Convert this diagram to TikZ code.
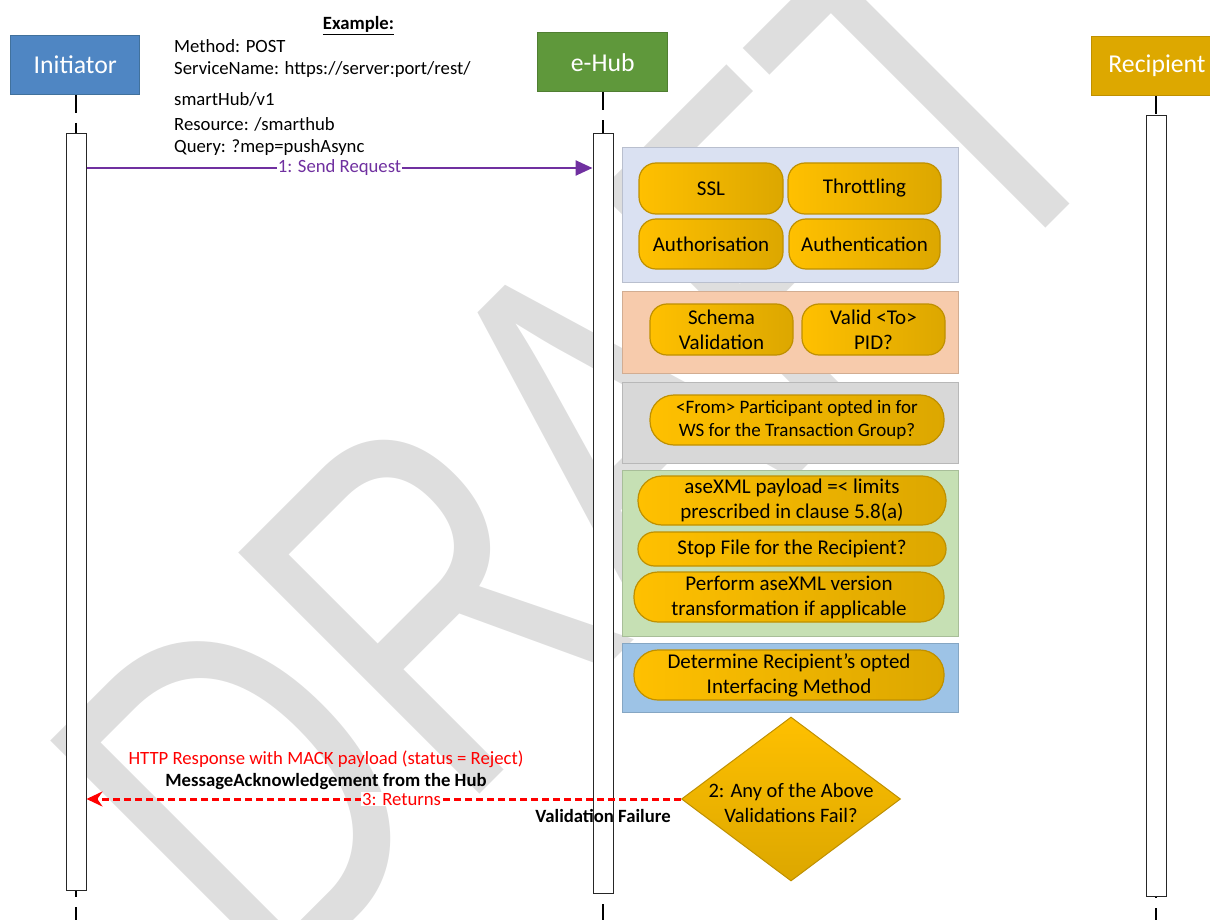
\documentclass[tikz,border=0pt]{standalone}
\usepackage{fontspec}
\usepackage{graphicx}
\setmainfont{Carlito}
\newfontfamily\wmfont{Liberation Sans}
\usetikzlibrary{arrows.meta,shapes.geometric}
\definecolor{initblue}{HTML}{4F86C3}
\definecolor{initborder}{HTML}{41719C}
\definecolor{hubgreen}{HTML}{5F983B}
\definecolor{hubborder}{HTML}{507E32}
\definecolor{recgold}{HTML}{DDA800}
\definecolor{recborder}{HTML}{BF9000}
\definecolor{goldA}{HTML}{FFC000}
\definecolor{goldB}{HTML}{DCA700}
\definecolor{pillborder}{HTML}{BF9000}
\definecolor{grpA}{HTML}{DAE1F2}
\definecolor{grpB}{HTML}{F7CBAC}
\definecolor{grpC}{HTML}{D8D8D8}
\definecolor{grpD}{HTML}{C6E0B4}
\definecolor{grpE}{HTML}{9DC3E6}
\definecolor{msgpurple}{HTML}{7030A0}
\definecolor{wmgray}{HTML}{DEDEDE}
\definecolor{msgred}{HTML}{FF0000}
\begin{document}
\begin{tikzpicture}[x=1pt,y=-1pt,
  header/.style={line width=1pt, minimum height=59pt, inner sep=0pt, text=white, font=\fontsize{25.7}{30}\selectfont},
  actbar/.style={draw=black!85, fill=white, line width=1pt, minimum width=20pt, inner sep=0pt},
  lifeline/.style={line width=1.8pt, black, dash pattern=on 18pt off 10pt},
  grp/.style={fill=#1, draw=#1!85!black, line width=0.8pt, minimum width=336pt, inner sep=0pt},
  pill/.style={draw=pillborder, line width=1.2pt, left color=goldA, right color=goldB, inner sep=0pt, align=center, font=\fontsize{21}{25}\selectfont},
  plain/.style={inner sep=0pt, font=\fontsize{18.7}{22}\selectfont},
  msglabel/.style={fill=white, inner sep=1pt, font=\fontsize{18.7}{22}\selectfont},
  wm/.style={text=wmgray, inner sep=0pt, font=\wmfont\fontsize{368}{368}\selectfont}
]
\useasboundingbox (0,0) rectangle (1210,920);
\clip (0,0) rectangle (1210,920);

% watermark
\node[wm, rotate=45, anchor=north west] (draft) at (28.8,762.2) {\scalebox{1}[1.347]{DRAFT}};

% header boxes
\node[header, fill=initblue, draw=initborder, minimum width=129pt] (init) at (75.3,65) {Initiator};
\node[header, fill=hubgreen, draw=hubborder, minimum width=130pt] (hub) at (602.7,62.2) {e-Hub};
\node[header, fill=recgold, draw=recborder, minimum width=132pt] (rec) at (1157,66) {Recipient};

% lifeline ends
\coordinate (initend) at (76,925);
\coordinate (hubend) at (603,925);
\coordinate (recend) at (1156,925);
\draw[lifeline] (init.south -| initend) -- (initend);
\draw[lifeline] (hub.south -| hubend) -- (hubend);
\draw[lifeline] (rec.south -| recend) -- (recend);

% activation bars
\node[actbar, minimum height=756pt] (initbar) at (76,512) {};
\node[actbar, minimum height=759pt] (hubbar) at (603,513.5) {};
\node[actbar, minimum height=780pt] (recbar) at (1156,506) {};

% groups
\node[grp=grpA, minimum height=135pt] (g1) at (790,214.5) {};
\node[grp=grpB, minimum height=82pt] (g2) at (790,332) {};
\node[grp=grpC, minimum height=81pt] (g3) at (790,422.5) {};
\node[grp=grpD, minimum height=166pt] (g4) at (790,553) {};
\node[grp=grpE, minimum height=69pt] (g5) at (790,677.5) {};

% pills
\node[pill, rounded corners=17pt, minimum width=144pt, minimum height=51pt] (ssl) at (711,188.5) {SSL};
\node[pill, rounded corners=17pt, minimum width=153pt, minimum height=51pt] (thr) at (864.5,188.5) {Throttling};
\node[pill, rounded corners=17pt, minimum width=144pt, minimum height=50pt] (authz) at (711,244) {Authorisation};
\node[pill, rounded corners=17pt, minimum width=151pt, minimum height=50pt] (authn) at (864.5,244) {Authentication};
\node[pill, rounded corners=17pt, minimum width=143pt, minimum height=51pt] (schema) at (721.5,329.5) {Schema\\Validation};
\node[pill, rounded corners=17pt, minimum width=143pt, minimum height=51pt] (validto) at (873.5,329.5) {Valid <To>\\PID?};
\node[pill, rounded corners=24pt, minimum width=294pt, minimum height=50pt, font=\fontsize{19}{23}\selectfont] (from) at (797,420) {<From> Participant opted in for\\WS for the Transaction Group?};
\node[pill, rounded corners=24pt, minimum width=308pt, minimum height=49pt] (ase) at (792,500.5) {aseXML payload =< limits\\prescribed in clause 5.8(a)};
\node[pill, rounded corners=16.5pt, minimum width=308pt, minimum height=34pt] (stop) at (792,549) {Stop File for the Recipient?};
\node[pill, rounded corners=24pt, minimum width=310pt, minimum height=50pt] (perf) at (789,597) {Perform aseXML version\\transformation if applicable};
\node[pill, rounded corners=24pt, minimum width=310pt, minimum height=50pt] (det) at (789,675) {Determine Recipient’s opted\\Interfacing Method};

% example text
\node[plain, anchor=base, font=\fontsize{18.7}{22}\selectfont\bfseries] (ex) at (358.5,30) {\underline{Example:}};
\node[plain, anchor=base west] (ex1) at (174,52.3) {Method: POST};
\node[plain, anchor=base west] (ex2) at (174,75) {ServiceName: https://server:port/rest/};
\node[plain, anchor=base west] (ex3) at (174,106) {smartHub/v1};
\node[plain, anchor=base west] (ex4) at (174,130.7) {Resource: /smarthub};
\node[plain, anchor=base west] (ex5) at (174,152.7) {Query: ?mep=pushAsync};

% message 1
\coordinate (m1) at (0,168);
\draw[msgpurple, line width=2.5pt, -{Triangle[length=17pt,width=15pt]}] (initbar.east |- m1) -- node[msglabel, text=msgpurple, pos=0.5] (l1) {1: Send Request} (hubbar.west |- m1);

% decision
\node[diamond, draw=pillborder, line width=1pt, top color=goldA, bottom color=goldB, minimum width=219pt, minimum height=164pt, inner sep=0pt] (dec) at (791,799) {};
\node[inner sep=0pt, align=center, font=\fontsize{20.5}{25}\selectfont] (dectext) at (791,803) {2: Any of the Above\\Validations Fail?};

% message 3
\draw[msgred, line width=3pt, dash pattern=on 7pt off 4pt, -{Stealth[length=16pt,width=15pt]}] (dec.west) -- node[msglabel, text=msgred, pos=0.47] (l3) {3: Returns} (dec.west -| initbar.east);

\node[plain, anchor=base, text=msgred] (http) at (326,764) {HTTP Response with MACK payload (status = Reject)};
\node[plain, anchor=base, font=\fontsize{18.7}{22}\selectfont\bfseries] (mack) at (326,786) {MessageAcknowledgement from the Hub};
\node[plain, anchor=base, font=\fontsize{18.7}{22}\selectfont\bfseries] (vf) at (603,822) {Validation Failure};
\end{tikzpicture}
\end{document}
